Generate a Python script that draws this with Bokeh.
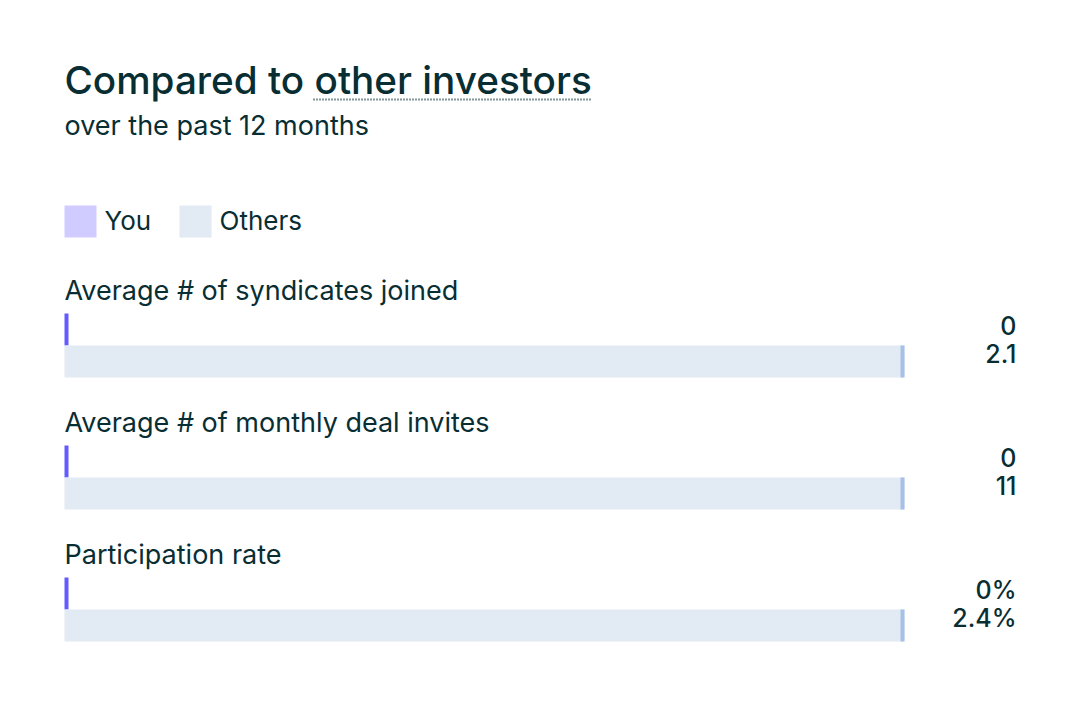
from bokeh.plotting import figure
from bokeh.models import Range1d
from bokeh.core.properties import value
from bokeh.embed import file_html
from bokeh.resources import INLINE

# ---- data ----
metrics = ["Average # of syndicates joined", "Average # of monthly deal invites", "Participation rate"]
you_values = [0, 0, 0]
others_values = [2.1, 11, 2.4]
you_labels = ["0", "0", "0%"]
others_labels = ["2.1", "11", "2.4%"]
legend_names = ["You", "Others"]

TITLE = "Compared to other investors"
SUBTITLE = "over the past 12 months"

# ---- style ----
FONT = "Inter"
FONT_MED = "Inter Medium, Inter"
TXT = "#082e33"
YOU_FILL = "#635bff"
YOU_LEGEND = "#d0ccff"
OTH_FILL = "#e2eaf4"
OTH_CAP = "#a6c1e6"

W, H = 1063, 689
BAR_X0, BAR_W = 64, 840  # page pixels of bar area


def px(x):
    return (x - BAR_X0) / BAR_W


p = figure(width=W, height=H, output_backend="svg", toolbar_location=None,
           x_range=Range1d(px(0), px(W)), y_range=Range1d(H, 0),
           min_border=0, outline_line_color=None)
p.axis.visible = False
p.grid.visible = False
p.background_fill_color = "white"
p.border_fill_color = "white"

# title
p.text(x=[0], y=[79], text=[TITLE], text_font=value(FONT_MED), text_font_size="38.7px",
       text_color=TXT, text_baseline="alphabetic", text_align="left")
p.line(x=[px(313), px(591)], y=[99, 99], line_color=TXT,
       line_width=2, line_dash="1 2")
p.text(x=[0], y=[125], text=[SUBTITLE], text_font=value(FONT), text_font_size="27px",
       text_color=TXT, text_baseline="alphabetic", text_align="left")

# legend
leg_x = [64, 179]
leg_cols = [YOU_LEGEND, OTH_FILL]
for name, lx, col in zip(legend_names, leg_x, leg_cols):
    p.quad(left=[px(lx)], right=[px(lx + 32)], top=[205], bottom=[237],
           fill_color=col, line_color=None)
    p.text(x=[px(lx + 40)], y=[220], text=[name], text_font=value(FONT),
           text_font_size="26px", text_color=TXT, text_baseline="alphabetic")

CAP = 4 / BAR_W
ROW = 132
for i, m in enumerate(metrics):
    base = 313 + i * ROW
    mx = max(you_values[i], others_values[i]) or 1
    p.text(x=[0], y=[base - 23], text=[m], text_font=value(FONT), text_font_size="27px",
           text_color=TXT, text_baseline="alphabetic")
    for j, (v, lab, fill, cap) in enumerate([
            (you_values[i], you_labels[i], None, YOU_FILL),
            (others_values[i], others_labels[i], OTH_FILL, OTH_CAP)]):
        frac = v / mx
        top = base + j * 32
        if fill is not None and frac > 0:
            p.quad(left=[0], right=[frac], top=[top], bottom=[top + 32],
                   fill_color=fill, line_color=None)
        cr = max(frac, CAP)
        p.quad(left=[cr - CAP], right=[cr], top=[top], bottom=[top + 32],
               fill_color=cap, line_color=None)
        p.text(x=[px(1016)], y=[base + 12 + j * 28], text=[lab], text_font=value(FONT_MED),
               text_font_size="25px", text_color=TXT, text_baseline="alphabetic",
               text_align="right")

open("out.html", "w").write(file_html(p, INLINE))
